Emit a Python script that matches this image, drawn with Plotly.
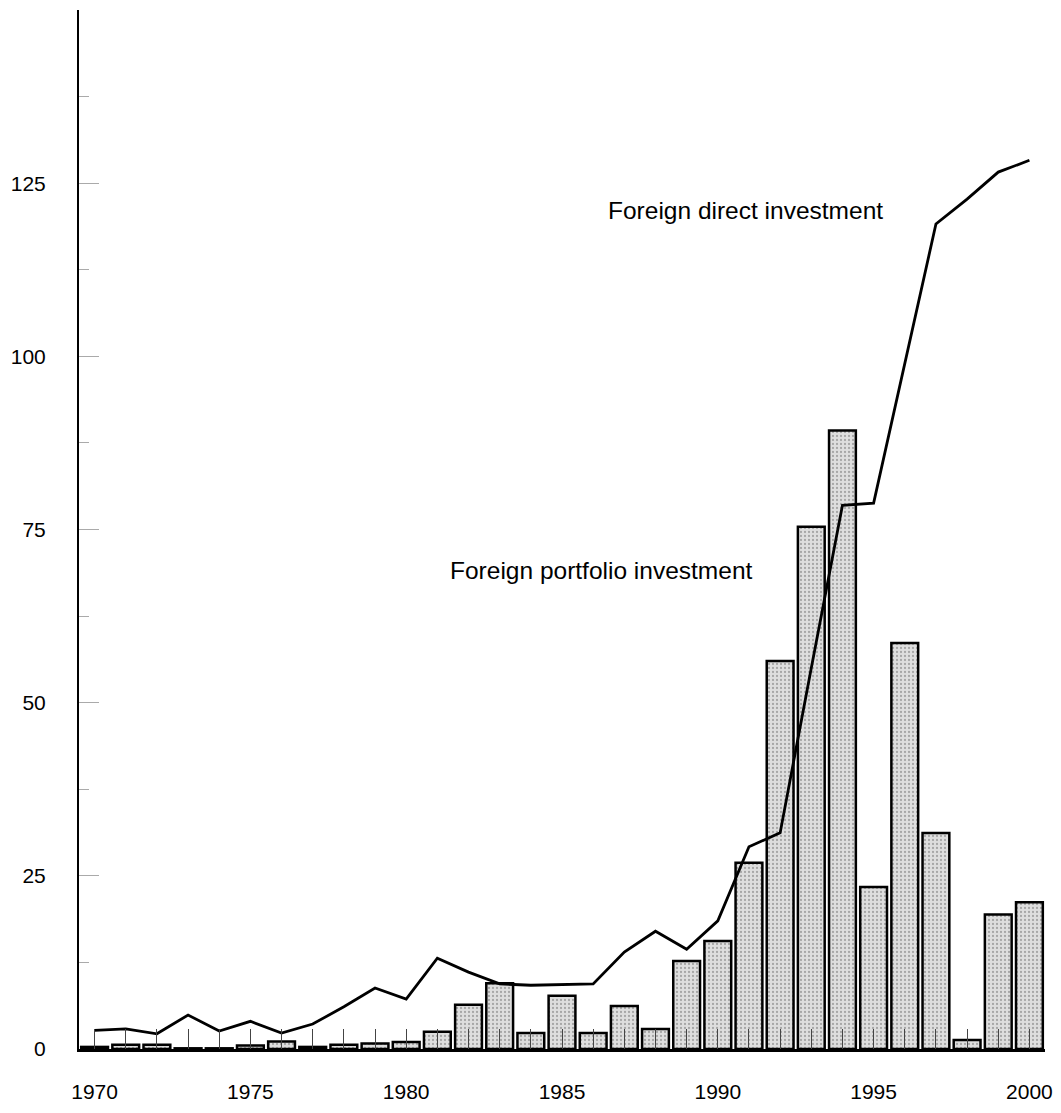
import plotly.graph_objects as go

years = list(range(1970, 2001))
portfolio = [0.3, 0.6, 0.6, 0.1, 0.1, 0.5, 1.1, 0.3, 0.6, 0.8, 1.0,
             2.5, 6.4, 9.5, 2.3, 7.7, 2.3, 6.2, 2.9, 12.7, 15.6,
             26.9, 56.0, 75.4, 89.3, 23.4, 58.6, 31.2, 1.3, 19.4, 21.2]
fdi = [2.7, 2.9, 2.2, 4.9, 2.6, 4.0, 2.3, 3.6, 6.1, 8.8, 7.2,
       13.1, 11.1, 9.4, 9.2, 9.3, 9.4, 14.0, 17.0, 14.4, 18.5,
       29.2, 31.2, 55.0, 78.5, 78.8, 99.0, 119.1, 122.7, 126.6, 128.3]
ytick_vals = [0, 25, 50, 75, 100, 125]
xtick_vals = [1970, 1975, 1980, 1985, 1990, 1995, 2000]

font_family = "Liberation Sans, Arial, sans-serif"

fig = go.Figure()
fig.add_trace(go.Bar(
    x=years, y=portfolio, width=0.86,
    marker=dict(color="#d6d6d6", line=dict(color="black", width=2.5),
                pattern=dict(shape=".", fgcolor="#6e6e6e", bgcolor="#dedede",
                             size=4, solidity=0.25)),
    showlegend=False, hoverinfo="skip"))
fig.add_trace(go.Scatter(
    x=years, y=fdi, mode="lines",
    line=dict(color="black", width=2.8),
    showlegend=False, hoverinfo="skip"))

fig.add_annotation(x=1986.41, y=121.1, text="Foreign direct investment",
                   showarrow=False, xanchor="left", yanchor="middle",
                   font=dict(size=24.5, color="black", family=font_family))
fig.add_annotation(x=1981.34, y=69.15, text="Foreign portfolio investment",
                   showarrow=False, xanchor="left", yanchor="middle",
                   font=dict(size=24.5, color="black", family=font_family))

fig.update_layout(
    width=1053, height=1105,
    margin=dict(l=71, r=16, t=2, b=64),
    paper_bgcolor="white", plot_bgcolor="white",
    font=dict(family=font_family, size=21, color="black"),
    xaxis=dict(range=[1969.5, 2000.5], tickvals=xtick_vals,
               ticks="inside", ticklen=20, tickwidth=1, tickcolor="#444",
               minor=dict(dtick=1, tick0=1970, ticks="inside", ticklen=20,
                          tickwidth=1, tickcolor="#444"),
               showline=True, linecolor="black", linewidth=2.5,
               showgrid=False, zeroline=False, ticklabelstandoff=22,
               tickfont=dict(size=21, family=font_family)),
    yaxis=dict(range=[0, 150], tickvals=ytick_vals,
               ticks="inside", ticklen=20, tickwidth=1, tickcolor="#aaa",
               minor=dict(dtick=12.5, tick0=0, ticks="inside", ticklen=10,
                          tickwidth=1, tickcolor="#aaa"),
               showline=True, linecolor="black", linewidth=2,
               showgrid=False, zeroline=False, ticklabelstandoff=27,
               tickfont=dict(size=21, family=font_family)),
)

fig.write_html("out.html")
